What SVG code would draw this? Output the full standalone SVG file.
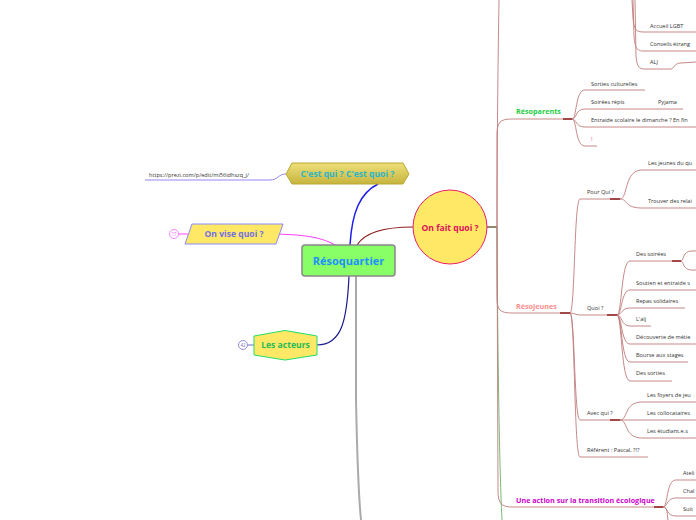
<svg xmlns="http://www.w3.org/2000/svg" width="696" height="520" viewBox="0 0 696 520">
<defs>
<linearGradient id="olive" x1="0" y1="0" x2="0" y2="1">
<stop offset="0" stop-color="#eee07a"/>
<stop offset="1" stop-color="#c6b43e"/>
</linearGradient>
</defs>
<style>
text{font-family:"Open Sans","Noto Sans","DejaVu Sans",sans-serif}
.t{font-size:5.6px;fill:#333}
.c{fill:none;stroke:#c07c7c;stroke-width:0.9}
.d{fill:none;stroke:#8b1a1a;stroke-width:1.6}
</style>
<rect width="696" height="520" fill="#fff"/>

<g id="connectors">
<path d="M145 180 L270 180 C278 180 278 174 286 174" fill="none" stroke="#7b68ee" stroke-width="0.8"/>
<path d="M350 245 C352 212 360 193 378 184" fill="none" stroke="#1c1cee" stroke-width="1.5"/>
<path d="M335 245 C320 236 300 235 278 234" fill="none" stroke="#ff44ff" stroke-width="1.2"/>
<path d="M178.5 234 L188 234" fill="none" stroke="#ff44ff" stroke-width="1"/>
<path d="M357 245 C365 232 385 227 413 227" fill="none" stroke="#8b2020" stroke-width="1.2"/>
<path d="M349 276 C347 320 342 345 317 345" fill="none" stroke="#1a1a8a" stroke-width="1.2"/>
<path d="M247.5 345 L254 345" fill="none" stroke="#6a6acd" stroke-width="1"/>
<path d="M356 276 L356 400 C357 450 358 490 361 520" fill="none" stroke="#aaa" stroke-width="2"/>
<path d="M487 227 L497 227" fill="none" stroke="#4a3a10" stroke-width="1.2"/>
<path d="M497 227 C498 400 500 480 502 520" fill="none" stroke="#77bb77" stroke-width="1"/>
<path class="c" d="M497 227 C497 150 498 60 499 0"/>
<path class="c" d="M497 227 L497 135 C497 122 500 119 512 119 L563 119"/>
<path class="c" d="M497 227 L497 298 C497 310 500 313 512 313 L560 313"/>
<path class="c" d="M497 227 L498 490 C498 503 501 507 512 507 L654 507"/>

<path class="c" d="M632 0 L633 18 C634 30 636 32 644 32 L696 32"/>
<path class="c" d="M633 0 L634 36 C635 49 637 51 644 51 L696 51"/>
<path class="c" d="M635 0 L636 56 C637 67 639 69 645 69 L671 69 C674 69 674 63 681 63 L696 62"/>

<path class="d" d="M563 119 L572 119"/>
<path class="c" d="M572 119 C577 119 575 90 585 90 L645 90"/>
<path class="c" d="M572 119 C577 119 575 109 585 109 L683 109"/>
<path class="c" d="M572 119 C577 119 575 127 585 127 L696 127"/>
<path class="c" d="M572 119 C577 119 575 146 585 146 L597 146"/>

<path class="d" d="M560 313 L570 313"/>
<path class="c" d="M570 313 C575 313 574 199 580 199 L610 199"/>
<path class="c" d="M570 313 C575 313 575 315 580 315 L607 315"/>
<path class="c" d="M570 313 C575 313 574 420 580 420 L610 420"/>
<path class="c" d="M570 313 C575 313 574 457 580 457 L648 457"/>
<path class="d" d="M610 199 L620 199"/>
<path class="c" d="M620 199 C628 199 624 170 642 170 L696 170"/>
<path class="c" d="M620 199 C628 199 624 208 642 208 L696 208"/>
<path class="d" d="M607 315 L617 315"/>
<path class="c" d="M617 315 C622 315 621 261 630 261 L672 261"/>
<path class="c" d="M617 315 C622 315 621 290 630 290 L696 290"/>
<path class="c" d="M617 315 C622 315 621 308 630 308 L685 308"/>
<path class="c" d="M617 315 C622 315 621 326 630 326 L651 326"/>
<path class="c" d="M617 315 C622 315 621 344 630 344 L696 344"/>
<path class="c" d="M617 315 C622 315 621 362 630 362 L688 362"/>
<path class="c" d="M617 315 C622 315 621 381 630 381 L672 381"/>
<path class="d" d="M672 261 L681 261"/>
<path class="c" d="M681 261 C684 261 682 251 692 251 L696 251"/>
<path class="c" d="M681 261 C684 261 682 270 692 270 L696 270"/>
<path class="d" d="M610 420 L620 420"/>
<path class="c" d="M620 420 C628 420 624 402 642 402 L696 402"/>
<path class="c" d="M620 420 L696 420"/>
<path class="c" d="M620 420 C628 420 624 438 642 438 L696 438"/>

<path class="d" d="M654 507 L663 507"/>
<path class="c" d="M663 507 C668 507 666 480 676 480 L696 480"/>
<path class="c" d="M663 507 C668 507 666 498 676 498 L696 498"/>
<path class="c" d="M663 507 C668 507 666 516 676 516 L696 516"/>
<path class="c" d="M663 507 C668 507 667 515 668 520"/>
</g>

<g id="n-url"><text class="t" x="149" y="177" font-size="5.2">https://prezi.com/p/edit/mi56idhszq_j/</text></g>

<g id="n-cestqui">
<polygon points="286,174 292,163 403,163 409,174 403,184 292,184" fill="url(#olive)" stroke="#b8a830" stroke-width="1"/>
<text x="347.5" y="177" text-anchor="middle" font-size="8.6" font-weight="bold" fill="#2ab5c8">C'est qui ? C'est quoi ?</text>
</g>

<g id="n-onvise">
<polygon points="192,224 283,224 276,244 185,244" fill="#ffe866" stroke="#8888ff" stroke-width="1"/>
<circle cx="174" cy="234" r="4.5" fill="#fff" stroke="#ff66ff" stroke-width="0.8"/>
<text x="174" y="235.7" text-anchor="middle" font-size="4.5" fill="#ff66ff">17</text>
<text x="234" y="237.2" text-anchor="middle" font-size="8.6" font-weight="bold" fill="#7070e0">On vise quoi ?</text>
</g>

<g id="n-acteurs">
<polygon points="254,336 285,330.5 317,336 317,355 285,360 254,355" fill="#ffe866" stroke="#22dd66" stroke-width="1"/>
<circle cx="243" cy="345" r="4.5" fill="#fff" stroke="#7777cc" stroke-width="0.8"/>
<text x="243" y="346.7" text-anchor="middle" font-size="4.5" fill="#7777cc">42</text>
<text x="285.5" y="348.3" text-anchor="middle" font-size="8.6" font-weight="bold" fill="#22bb55">Les acteurs</text>
</g>

<g id="n-root">
<rect x="302" y="245" width="93" height="31" rx="3" fill="#88ff66" stroke="#888" stroke-width="1.5"/>
<text x="348.5" y="265" text-anchor="middle" font-size="11" font-weight="bold" fill="#1e90ff">Résoquartier</text>
</g>

<g id="n-onfait">
<circle cx="450" cy="227" r="37" fill="#ffe866" stroke="#e8206a" stroke-width="1"/>
<text x="450" y="230.5" text-anchor="middle" font-size="8.6" font-weight="bold" fill="#e0105a">On fait quoi ?</text>
</g>

<g id="n-top">
<text class="t" x="650" y="28">Accueil LGBT</text>
<text class="t" x="650" y="46">Conseils étrang</text>
<text class="t" x="650" y="64">ALJ</text>
</g>

<g id="n-resoparents">
<text x="516" y="114" font-size="7.2" font-weight="bold" fill="#22cc44">Résoparents</text>
<text class="t" x="591" y="86">Sorties culturelles</text>
<text class="t" x="591" y="104">Soirées répis</text>
<text class="t" x="658" y="104">Pyjama</text>
<text class="t" x="591" y="122">Entraide scolaire le dimanche ? En fin</text>
<text x="591" y="141" font-size="6" fill="#e040c0">!</text>
</g>

<g id="n-resojeunes">
<text x="516" y="309" font-size="7.2" font-weight="bold" fill="#ff8c8c">Résojeunes</text>
<text class="t" x="587" y="194">Pour Qui ?</text>
<text class="t" x="648" y="165">Les jeunes du qu</text>
<text class="t" x="648" y="203">Trouver des relai</text>
<text class="t" x="587" y="310">Quoi ?</text>
<text class="t" x="636" y="256">Des soirées</text>
<text class="t" x="636" y="285">Soutien et entraide s</text>
<text class="t" x="636" y="303">Repas solidaires</text>
<text class="t" x="636" y="321">L'alj</text>
<text class="t" x="636" y="339">Découverte de métie</text>
<text class="t" x="636" y="357">Bourse aux stages</text>
<text class="t" x="636" y="375">Des sorties</text>
<text class="t" x="587" y="415">Avec qui ?</text>
<text class="t" x="647" y="397">Les foyers de jeu</text>
<text class="t" x="647" y="415">Les collocataires</text>
<text class="t" x="647" y="433">Les étudiant.e.s</text>
<text class="t" x="587" y="452">Référent : Pascal, ?!?</text>
</g>

<g id="n-transition">
<text x="516" y="503" font-size="7.2" font-weight="bold" fill="#cc00cc">Une action sur la transition écologique</text>
<text class="t" x="683" y="475">Ateli</text>
<text class="t" x="683" y="493">Chal</text>
<text class="t" x="683" y="511">Suit</text>
</g>
</svg>
